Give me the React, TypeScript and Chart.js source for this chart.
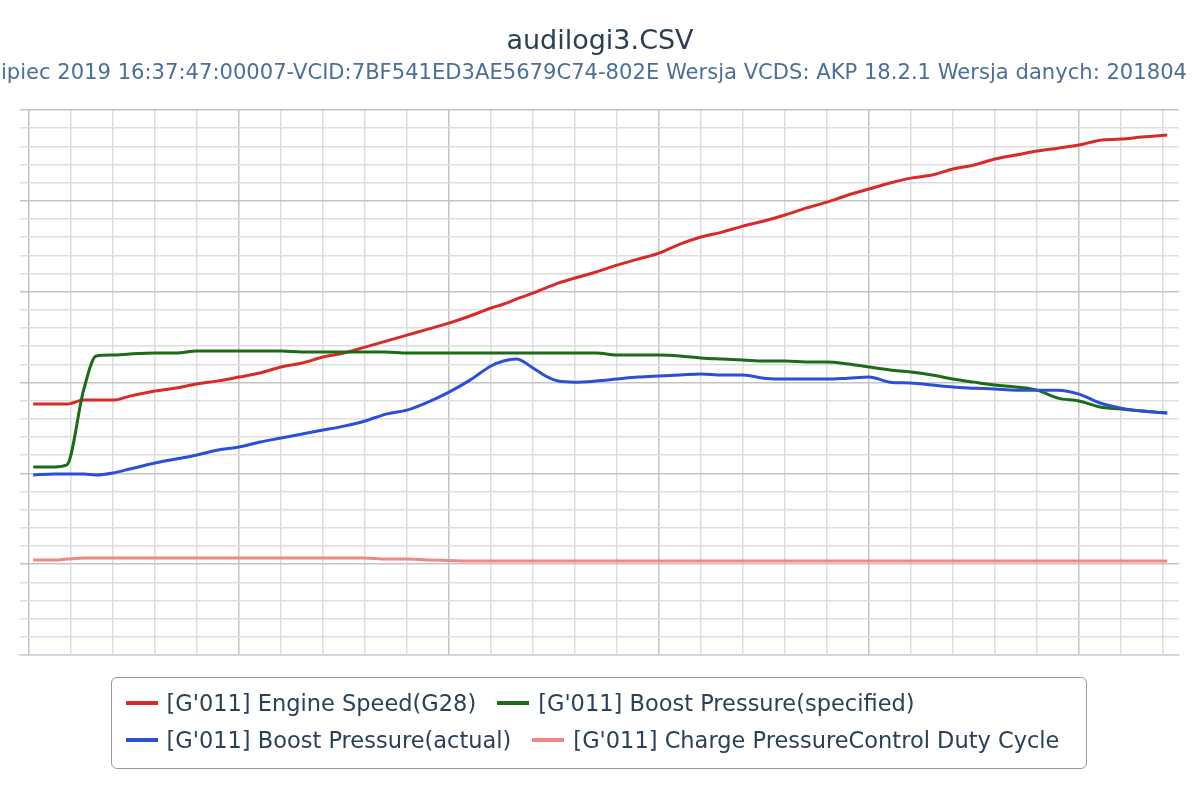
import { useEffect, useRef } from "react"
import Chart from "chart.js/auto"

const title = "audilogi3.CSV"
const subtitle =
    "lipiec 2019 16:37:47:00007-VCID:7BF541ED3AE5679C74-802E Wersja VCDS: AKP 18.2.1 Wersja danych: 201804"

// time axis in grid units (one minor grid step = 1)
const time = [
    0.1, 0.6, 0.9, 1.3, 1.6, 2.0, 2.4, 3.0, 3.5, 4.0, 4.5, 5.0, 5.5, 6.0, 6.5, 7.0, 7.5, 8.0, 8.5, 9.0,
    9.5, 10.0, 10.5, 11.0, 11.3, 11.6, 12.0, 12.3, 12.6, 13.0, 13.5, 14.0, 14.5, 15.0, 15.5, 16.0, 16.5,
    17.0, 17.5, 18.0, 18.5, 19.0, 19.5, 20.0, 20.5, 21.0, 21.5, 22.0, 22.5, 23.0, 23.5, 24.0, 24.5, 25.0,
    25.5, 26.0, 26.5, 27.1,
]

const engineSpeed = [
    13.81, 13.81, 13.81, 14.03, 14.03, 14.03, 14.25, 14.53, 14.7, 14.92, 15.09, 15.3, 15.52, 15.85, 16.07,
    16.4, 16.62, 16.95, 17.28, 17.61, 17.94, 18.27, 18.66, 19.1, 19.32, 19.59, 19.92, 20.2, 20.47, 20.75,
    21.08, 21.46, 21.79, 22.12, 22.62, 23.01, 23.28, 23.61, 23.89, 24.22, 24.6, 24.93, 25.32, 25.65, 25.98,
    26.25, 26.42, 26.75, 26.97, 27.3, 27.52, 27.74, 27.9, 28.07, 28.34, 28.4, 28.51, 28.62,
]

const boostSpecified = [
    10.35, 10.35, 10.46, 14.58, 16.46, 16.51, 16.57, 16.62, 16.62, 16.73, 16.73, 16.73, 16.73, 16.73, 16.68,
    16.68, 16.68, 16.68, 16.68, 16.62, 16.62, 16.62, 16.62, 16.62, 16.62, 16.62, 16.62, 16.62, 16.62, 16.62,
    16.62, 16.51, 16.51, 16.51, 16.46, 16.35, 16.29, 16.24, 16.18, 16.18, 16.13, 16.13, 16.02, 15.85, 15.69,
    15.58, 15.41, 15.19, 15.02, 14.86, 14.75, 14.58, 14.14, 13.98, 13.65, 13.54, 13.43, 13.32,
]

const boostActual = [
    9.91, 9.96, 9.96, 9.96, 9.91, 10.02, 10.24, 10.57, 10.79, 11.01, 11.28, 11.45, 11.72, 11.94, 12.16,
    12.38, 12.6, 12.88, 13.26, 13.48, 13.92, 14.47, 15.13, 15.91, 16.18, 16.29, 15.8, 15.36, 15.08, 15.02,
    15.08, 15.19, 15.3, 15.36, 15.41, 15.47, 15.41, 15.41, 15.24, 15.19, 15.19, 15.19, 15.24, 15.3, 15.02,
    14.97, 14.86, 14.75, 14.69, 14.64, 14.58, 14.58, 14.58, 14.36, 13.87, 13.59, 13.43, 13.32,
]

const dutyCycle = [
    5.23, 5.23, 5.28, 5.34, 5.34, 5.34, 5.34, 5.34, 5.34, 5.34, 5.34, 5.34, 5.34, 5.34, 5.34, 5.34, 5.34,
    5.34, 5.28, 5.28, 5.23, 5.2, 5.17, 5.17, 5.17, 5.17, 5.17, 5.17, 5.17, 5.17, 5.17, 5.17, 5.17, 5.17,
    5.17, 5.17, 5.17, 5.17, 5.17, 5.17, 5.17, 5.17, 5.17, 5.17, 5.17, 5.17, 5.17, 5.17, 5.17, 5.17, 5.17,
    5.17, 5.17, 5.17, 5.17, 5.17, 5.17, 5.17,
]

const seriesNames = [
    "[G'011] Engine Speed(G28)",
    "[G'011] Boost Pressure(specified)",
    "[G'011] Boost Pressure(actual)",
    "[G'011] Charge PressureControl Duty Cycle",
]
const seriesColors = ["#d92a2a", "#1d6a17", "#2b4fd6", "#f38686"]
const seriesValues = [engineSpeed, boostSpecified, boostActual, dutyCycle]

const xGrid = Array.from({ length: 28 }, (_, i) => i)
const yGrid = Array.from({ length: 31 }, (_, i) => i)

const FONT = "'DejaVu Sans', Verdana, sans-serif"

const headerPlugin = {
    id: "header",
    afterDraw(chart: Chart) {
        const { ctx } = chart
        ctx.save()
        ctx.textAlign = "center"
        ctx.textBaseline = "alphabetic"
        ctx.fillStyle = "#2b3e52"
        ctx.font = "27px " + FONT
        ctx.fillText(title, 600, 49)
        ctx.fillStyle = "#4c6f99"
        ctx.font = "21.1px " + FONT
        ctx.fillText(subtitle, 591, 79)
        ctx.restore()
    },
}

const gridColor = (c: any) => (c.tick && c.tick.value % 5 === 0 ? "#c4c4c4" : "#dedede")

export default function App() {
    const chartRef = useRef<HTMLCanvasElement>(null)

    useEffect(() => {
        document.body.style.margin = "0"
        if (!chartRef.current) return

        const chart = new Chart(chartRef.current, {
            type: "line",
            data: {
                datasets: seriesNames.map((name, i) => ({
                    label: name,
                    data: time.map((t, k) => ({ x: t, y: seriesValues[i][k] })),
                    borderColor: seriesColors[i],
                    backgroundColor: seriesColors[i],
                    borderWidth: 3,
                    pointRadius: 0,
                    cubicInterpolationMode: "monotone" as const,
                    borderJoinStyle: "round" as const,
                    fill: false,
                    order: 3 - i,
                })),
            },
            options: {
                animation: false,
                responsive: true,
                maintainAspectRatio: false,
                layout: { padding: { left: 20, right: 21, top: 110, bottom: 145 } },
                plugins: {
                    legend: { display: false },
                    title: { display: false },
                    tooltip: { enabled: false },
                },
                scales: {
                    x: {
                        type: "linear",
                        min: -0.2143,
                        max: 27.381,
                        afterBuildTicks: (axis: any) => {
                            axis.ticks = xGrid.map((v) => ({ value: v }))
                        },
                        ticks: { display: false },
                        grid: { color: gridColor, lineWidth: 1.5, drawTicks: false },
                        border: { color: "#c5d3e3", width: 1.5 },
                    },
                    y: {
                        min: 0,
                        max: 30,
                        afterBuildTicks: (axis: any) => {
                            axis.ticks = yGrid.map((v) => ({ value: v }))
                        },
                        ticks: { display: false },
                        grid: { color: gridColor, lineWidth: 1.5, drawTicks: false },
                        border: { display: false },
                    },
                },
            },
            plugins: [headerPlugin],
        })

        return () => {
            chart.destroy()
        }
    }, [])

    const lineStyle = (color: string) => ({
        display: "inline-block",
        width: 32,
        height: 4,
        background: color,
        marginRight: 9,
    })

    const Item = ({ i }: { i: number }) => (
        <span style={{ display: "flex", alignItems: "center", marginRight: 21 }}>
            <span style={lineStyle(seriesColors[i])}></span>
            <span>{seriesNames[i]}</span>
        </span>
    )

    return (
        <div style={{ position: "relative", width: 1200, height: 800, background: "#fff" }}>
            <canvas ref={chartRef}></canvas>
            {/* legend */}
            <div
                style={{
                    position: "absolute",
                    left: 111,
                    top: 677,
                    width: 976,
                    height: 92,
                    boxSizing: "border-box",
                    border: "1.5px solid #9a9a9a",
                    borderRadius: 6,
                    padding: "6.5px 0 0 13.5px",
                    fontFamily: FONT,
                    fontSize: 22.5,
                    color: "#2b3f57",
                    whiteSpace: "nowrap",
                }}
            >
                <div style={{ display: "flex", alignItems: "center", height: 37 }}>
                    <Item i={0} />
                    <Item i={1} />
                </div>
                <div style={{ display: "flex", alignItems: "center", height: 37 }}>
                    <Item i={2} />
                    <Item i={3} />
                </div>
            </div>
        </div>
    )
}
